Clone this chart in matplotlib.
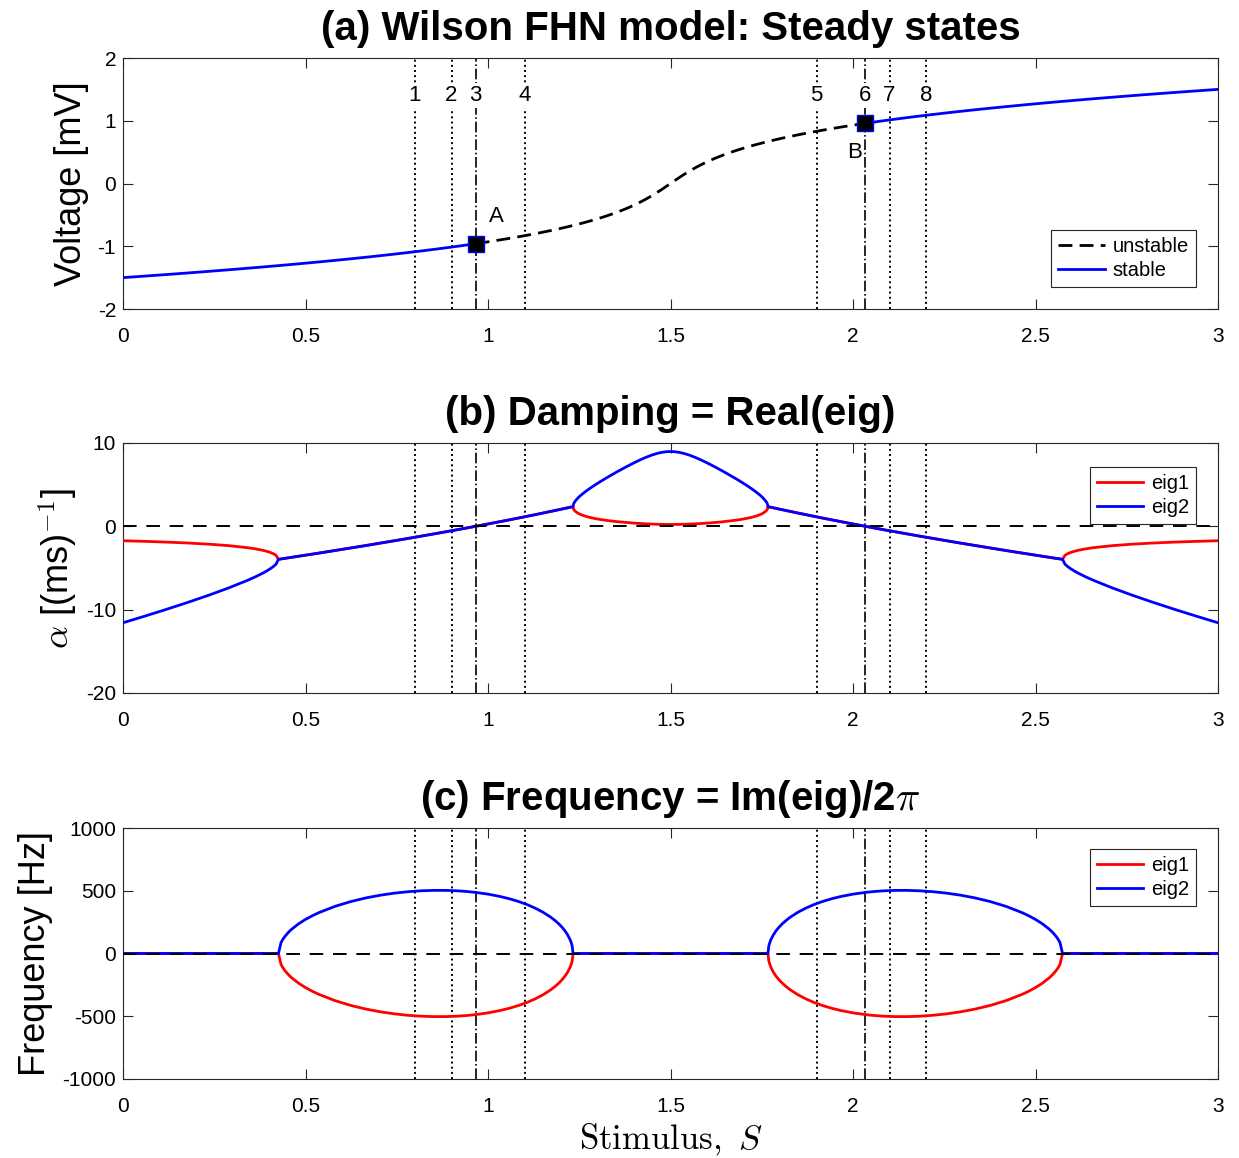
import numpy as np
import matplotlib
matplotlib.use("Agg")
import matplotlib.pyplot as plt
from matplotlib.ticker import FuncFormatter

plt.rcParams['font.family'] = ['Liberation Sans', 'DejaVu Sans']
plt.rcParams['mathtext.fontset'] = 'cm'
plt.rcParams['axes.unicode_minus'] = False

# ---- data ----
# stimulus S along the steady-state branch (left half / right half)
S_left = [0.0, 0.0616, 0.1213, 0.1792, 0.2353, 0.2897, 0.3424, 0.3630, 0.3833, 0.3933,
          0.4033, 0.4133, 0.4192, 0.4259, 0.4329, 0.4378, 0.4427, 0.4523, 0.4619, 0.4810,
          0.4997, 0.5182, 0.5365, 0.5810, 0.6240, 0.6655, 0.7055, 0.7441, 0.7813, 0.8172,
          0.8516, 0.8848, 0.9167, 0.9413, 0.9661, 0.9994, 1.0320, 1.0579, 1.0828, 1.1066,
          1.1293, 1.1511, 1.1719, 1.1839, 1.1956, 1.2032, 1.2107, 1.2180, 1.2252, 1.2287,
          1.2308, 1.2330, 1.2343, 1.2357, 1.2378, 1.2392, 1.2460, 1.2526, 1.2656, 1.2780,
          1.2929, 1.3070, 1.3205, 1.3333, 1.3571, 1.3787, 1.3982, 1.4160, 1.4323, 1.4473,
          1.4614, 1.4747, 1.4875, 1.5]
S_right = [1.5125, 1.5253, 1.5386, 1.5527, 1.5677, 1.5840, 1.6018, 1.6213, 1.6429, 1.6667,
           1.6795, 1.6930, 1.7071, 1.7220, 1.7344, 1.7474, 1.7540, 1.7608, 1.7622, 1.7643,
           1.7657, 1.7670, 1.7692, 1.7713, 1.7748, 1.7820, 1.7893, 1.7968, 1.8044, 1.8161,
           1.8281, 1.8489, 1.8707, 1.8934, 1.9172, 1.9421, 1.9680, 2.0006, 2.0339, 2.0587,
           2.0833, 2.1152, 2.1484, 2.1828, 2.2187, 2.2559, 2.2945, 2.3345, 2.3760, 2.4190,
           2.4635, 2.4818, 2.5003, 2.5190, 2.5381, 2.5477, 2.5573, 2.5622, 2.5671, 2.5741,
           2.5808, 2.5867, 2.5967, 2.6067, 2.6167, 2.6370, 2.6576, 2.7103, 2.7647, 2.8208,
           2.8787, 2.9384, 3.0]

# steady-state voltage [mV]
V_left = [-1.5, -1.475, -1.45, -1.425, -1.4, -1.375, -1.35, -1.34, -1.33, -1.325,
          -1.32, -1.315, -1.312, -1.3086, -1.305, -1.3025, -1.3, -1.295, -1.29, -1.28,
          -1.27, -1.26, -1.25, -1.225, -1.2, -1.175, -1.15, -1.125, -1.1, -1.075,
          -1.05, -1.025, -1.0, -0.98, -0.9592, -0.93, -0.9, -0.875, -0.85, -0.825,
          -0.8, -0.775, -0.75, -0.735, -0.72, -0.71, -0.7, -0.69, -0.68, -0.675,
          -0.672, -0.669, -0.667, -0.665, -0.662, -0.66, -0.65, -0.64, -0.62, -0.6,
          -0.575, -0.55, -0.525, -0.5, -0.45, -0.4, -0.35, -0.3, -0.25, -0.2,
          -0.15, -0.1, -0.05, 0.0]
V_right = [0.05, 0.1, 0.15, 0.2, 0.25, 0.3, 0.35, 0.4, 0.45, 0.5,
           0.525, 0.55, 0.575, 0.6, 0.62, 0.64, 0.65, 0.66, 0.662, 0.665,
           0.667, 0.669, 0.672, 0.675, 0.68, 0.69, 0.7, 0.71, 0.72, 0.735,
           0.75, 0.775, 0.8, 0.825, 0.85, 0.875, 0.9, 0.93, 0.9592, 0.98,
           1.0, 1.025, 1.05, 1.075, 1.1, 1.125, 1.15, 1.175, 1.2, 1.225,
           1.25, 1.26, 1.27, 1.28, 1.29, 1.295, 1.3, 1.3025, 1.305, 1.3086,
           1.312, 1.315, 1.32, 1.325, 1.33, 1.34, 1.35, 1.375, 1.4, 1.425,
           1.45, 1.475, 1.5]

# real part of eigenvalues [1/ms]
re1_left = [-1.728, -1.805, -1.895, -2.005, -2.141, -2.318, -2.568, -2.704, -2.879, -2.990,
            -3.128, -3.313, -3.475, -3.962, -3.915, -3.883, -3.850, -3.785, -3.721, -3.592,
            -3.465, -3.338, -3.213, -2.903, -2.600, -2.303, -2.013, -1.728, -1.450, -1.178,
            -0.913, -0.653, -0.400, -0.202, 0.0, 0.276, 0.550, 0.772, 0.988, 1.197,
            1.400, 1.597, 1.788, 1.899, 2.008, 2.080, 2.150, 2.220, 2.288, 2.322,
            2.342, 2.362, 2.085, 1.978, 1.864, 1.805, 1.589, 1.440, 1.230, 1.080,
            0.937, 0.826, 0.737, 0.663, 0.546, 0.459, 0.393, 0.342, 0.302, 0.272,
            0.250, 0.235, 0.226, 0.223]
re1_right = [0.226, 0.235, 0.250, 0.272, 0.302, 0.342, 0.393, 0.459, 0.546, 0.663,
             0.737, 0.826, 0.937, 1.080, 1.230, 1.440, 1.589, 1.805, 1.864, 1.978,
             2.085, 2.362, 2.342, 2.322, 2.288, 2.220, 2.150, 2.080, 2.008, 1.899,
             1.788, 1.597, 1.400, 1.197, 0.988, 0.772, 0.550, 0.276, 0.0, -0.202,
             -0.400, -0.653, -0.913, -1.178, -1.450, -1.728, -2.013, -2.303, -2.600, -2.903,
             -3.213, -3.338, -3.465, -3.592, -3.721, -3.785, -3.850, -3.883, -3.915, -3.962,
             -3.475, -3.313, -3.128, -2.990, -2.879, -2.704, -2.568, -2.318, -2.141, -2.005,
             -1.895, -1.805, -1.728]
re2_left = [-11.572, -10.751, -9.930, -9.102, -8.259, -7.388, -6.457, -6.052, -5.610, -5.366,
            -5.097, -4.779, -4.539, -3.962, -3.915, -3.883, -3.850, -3.785, -3.721, -3.592,
            -3.465, -3.338, -3.213, -2.903, -2.600, -2.303, -2.013, -1.728, -1.450, -1.178,
            -0.913, -0.653, -0.400, -0.202, 0.0, 0.276, 0.550, 0.772, 0.988, 1.197,
            1.400, 1.597, 1.788, 1.899, 2.008, 2.080, 2.150, 2.220, 2.288, 2.322,
            2.342, 2.362, 2.666, 2.800, 2.953, 3.040, 3.386, 3.664, 4.126, 4.520,
            4.957, 5.349, 5.707, 6.038, 6.629, 7.141, 7.582, 7.958, 8.273, 8.528,
            8.725, 8.865, 8.949, 8.977]
re2_right = [8.949, 8.865, 8.725, 8.528, 8.273, 7.958, 7.582, 7.141, 6.629, 6.038,
             5.707, 5.349, 4.957, 4.520, 4.126, 3.664, 3.386, 3.040, 2.953, 2.800,
             2.666, 2.362, 2.342, 2.322, 2.288, 2.220, 2.150, 2.080, 2.008, 1.899,
             1.788, 1.597, 1.400, 1.197, 0.988, 0.772, 0.550, 0.276, 0.0, -0.202,
             -0.400, -0.653, -0.913, -1.178, -1.450, -1.728, -2.013, -2.303, -2.600, -2.903,
             -3.213, -3.338, -3.465, -3.592, -3.721, -3.785, -3.850, -3.883, -3.915, -3.962,
             -4.539, -4.779, -5.097, -5.366, -5.610, -6.052, -6.457, -7.388, -8.259, -9.102,
             -9.930, -10.751, -11.572]

# frequency Im(eig)/2pi of eig2 [Hz]; eig1 is its mirror below zero
f2_left = [0, 0, 0, 0, 0, 0, 0, 0, 0, 0,
           0, 0, 0, 0, 86.6, 112.3, 132.9, 166.1, 193.0, 236.3,
           271.1, 300.2, 325.4, 375.8, 413.8, 442.8, 464.8, 481.1, 492.5, 499.7,
           503.0, 502.8, 499.3, 494.2, 486.9, 473.3, 455.1, 436.7, 415.2, 390.3,
           361.5, 328.3, 289.3, 262.3, 231.5, 208.0, 181.3, 149.5, 108.4, 80.2,
           56.8, 0, 0, 0, 0, 0, 0, 0, 0, 0,
           0, 0, 0, 0, 0, 0, 0, 0, 0, 0,
           0, 0, 0, 0]
f2_right = [0, 0, 0, 0, 0, 0, 0, 0, 0, 0,
            0, 0, 0, 0, 0, 0, 0, 0, 0, 0,
            0, 0, 56.8, 80.2, 108.4, 149.5, 181.3, 208.0, 231.5, 262.3,
            289.3, 328.3, 361.5, 390.3, 415.2, 436.7, 455.1, 473.3, 486.9, 494.2,
            499.3, 502.8, 503.0, 499.7, 492.5, 481.1, 464.8, 442.8, 413.8, 375.8,
            325.4, 300.2, 271.1, 236.3, 193.0, 166.1, 132.9, 112.3, 86.6, 0,
            0, 0, 0, 0, 0, 0, 0, 0, 0, 0,
            0, 0, 0]

# markers and reference lines
hopf_S = [0.9661, 2.0339]
hopf_V = [-0.9592, 0.9592]
dotted_S = [0.8, 0.9, 1.1, 1.9, 2.1, 2.2]
line_S = [0.8, 0.9, 0.9661, 1.1, 1.9, 2.0339, 2.1, 2.2]
line_lab = ['1', '2', '3', '4', '5', '6', '7', '8']

S = np.array(S_left + S_right)
V = np.array(V_left + V_right)
re_eig1 = np.array(re1_left + re1_right)
re_eig2 = np.array(re2_left + re2_right)
freq_eig2 = np.array(f2_left + f2_right)
freq_eig1 = -freq_eig2

fig = plt.figure(figsize=(12.39, 11.58), dpi=100)
W, H = 1239, 1158
def place(top, bottom):
    return [123 / W, 1 - bottom / H, 1095 / W, (bottom - top) / H]

ax1 = fig.add_axes(place(58, 309))
ax2 = fig.add_axes(place(443, 693))
ax3 = fig.add_axes(place(828, 1079))

fmt = FuncFormatter(lambda v, p: f"{v:g}")
legend_kw = dict(borderaxespad=0, fontsize=14.5, handlelength=2.3, fancybox=False,
                 framealpha=1, edgecolor='#262626', borderpad=0.35, labelspacing=0.25,
                 handletextpad=0.4)
for ax in (ax1, ax2, ax3):
    ax.set_xlim(0, 3)
    ax.set_xticks(np.arange(0, 3.01, 0.5))
    ax.xaxis.set_major_formatter(fmt)
    ax.yaxis.set_major_formatter(fmt)
    ax.tick_params(direction='in', top=True, right=True, length=7, width=0.8,
                   labelsize=15, colors='#262626', labelcolor='black')
    ax.tick_params(axis='x', pad=13)
    ax.tick_params(axis='y', pad=5)
    for sp in ax.spines.values():
        sp.set_color('#262626')
        sp.set_linewidth(0.8)
    for xs in dotted_S:
        ax.axvline(xs, color='black', ls=':', lw=1.4, zorder=1)
    for xs in hopf_S:
        ax.axvline(xs, color='black', ls='-.', lw=1.2, zorder=1)

# ---- (a) steady states ----
unst = np.abs(V) <= 0.9592
left = V <= -0.9592
right = V >= 0.9592
ax1.plot(S[unst], V[unst], color='black', lw=2, ls=(0, (5, 2.6)), label='unstable', zorder=3)
ax1.plot(S[left], V[left], color='blue', lw=2, label='stable', zorder=3)
ax1.plot(S[right], V[right], color='blue', lw=2, zorder=3)
ax1.plot(hopf_S, hopf_V, ls='none', marker='s', ms=11, mfc='black', mec='blue',
         mew=1, zorder=4)
for xs, lab in zip(line_S, line_lab):
    ax1.text(xs, 1.40, lab, ha='center', va='center', fontsize=16,
             bbox=dict(facecolor='white', edgecolor='none', pad=1.5), zorder=2)
ax1.text(1.022, -0.53, 'A', ha='center', va='center', fontsize=16)
ax1.text(2.003, 0.49, 'B', ha='center', va='center', fontsize=16)
ax1.set_ylim(-2, 2)
ax1.set_yticks([-2, -1, 0, 1, 2])
ax1.set_ylabel('Voltage [mV]', fontsize=26, labelpad=6)
ax1.set_title('(a) Wilson FHN model: Steady states', fontsize=29, fontweight='bold', pad=13)
leg = ax1.legend(loc='lower right', bbox_to_anchor=(0.980, 0.088), **legend_kw)
leg.get_frame().set_linewidth(0.8)

# ---- (b) damping ----
ax2.plot(S, re_eig1, color='red', lw=2, label='eig1', zorder=3)
ax2.plot(S, re_eig2, color='blue', lw=2, label='eig2', zorder=3)
ax2.axhline(0, color='black', lw=1.4, ls=(0, (7, 5)), zorder=4)
ax2.set_ylim(-20, 10)
ax2.set_yticks([-20, -10, 0, 10])
ax2.set_ylabel(r'$\alpha$ [(ms)$^{\mathsf{-1}}$]', fontsize=26, labelpad=4)
ax2.set_title('(b) Damping = Real(eig)', fontsize=29, fontweight='bold', pad=13)
leg = ax2.legend(loc='upper right', bbox_to_anchor=(0.980, 0.904), **legend_kw)
leg.get_frame().set_linewidth(0.8)

# ---- (c) frequency ----
ax3.plot(S, freq_eig1, color='red', lw=2, label='eig1', zorder=3)
ax3.plot(S, freq_eig2, color='blue', lw=2, label='eig2', zorder=3)
ax3.axhline(0, color='black', lw=1.4, ls=(0, (7, 5)), zorder=4)
ax3.set_ylim(-1000, 1000)
ax3.set_yticks([-1000, -500, 0, 500, 1000])
ax3.set_ylabel('Frequency [Hz]', fontsize=26, labelpad=7)
ax3.set_xlabel(r'$\mathrm{Stimulus,}\ S$', fontsize=25, labelpad=4)
ax3.set_title(r'(c) Frequency = Im(eig)/2$\pi$', fontsize=29, fontweight='bold', pad=13)
leg = ax3.legend(loc='upper right', bbox_to_anchor=(0.980, 0.916), **legend_kw)
leg.get_frame().set_linewidth(0.8)

fig.savefig('out.png', dpi=100)
